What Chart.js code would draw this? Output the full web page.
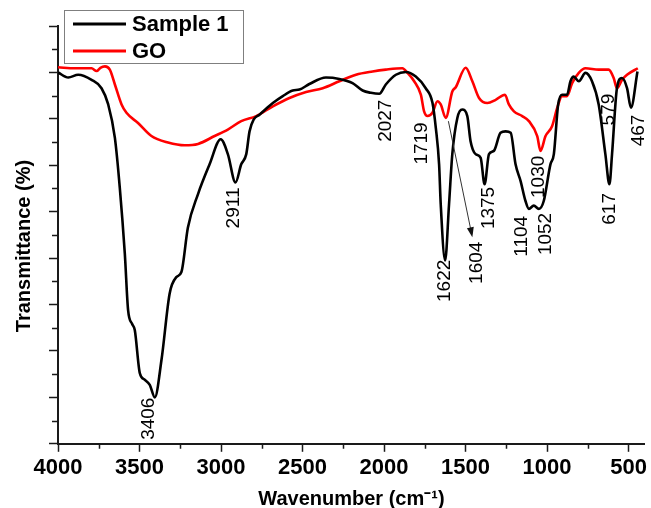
<!DOCTYPE html>
<html>
<head>
<meta charset="utf-8">
<title>FTIR spectra</title>
<script src="https://cdn.jsdelivr.net/npm/chart.js@4.4.1/dist/chart.umd.min.js"></script>
<style>
  html, body { margin: 0; padding: 0; background: #fff; }
  canvas { display: block; }
</style>
</head>
<body>
<canvas id="ftirChart" width="651" height="508"></canvas>
<script>
// wavenumber (cm-1) and transmittance
const sampleWavenumbers = [4000, 3937, 3876, 3794, 3733, 3692, 3651, 3621, 3590, 3570, 3545, 3529, 3498, 3468, 3437, 3406,
  3365, 3315, 3274, 3243, 3203, 3141, 3070, 3002, 2958, 2911, 2876, 2845, 2825, 2799, 2764, 2682, 2621, 2560, 2519,
  2458, 2356, 2274, 2193, 2131, 2080, 2029, 1989, 1927, 1866, 1805, 1744, 1703, 1682, 1662, 1652, 1625, 1601, 1581,
  1550, 1520, 1489, 1469, 1438, 1407, 1383, 1356, 1326, 1285, 1254, 1223, 1193, 1162, 1132, 1111, 1081, 1050, 1020,
  979, 958, 932, 908, 877, 856, 836, 805, 764, 724, 683, 642, 617, 601, 571, 540, 509, 485, 445];
const sampleValues = [80, 78.9, 79.5, 78.4, 76.6, 73.1, 65.9, 55.2, 40.9, 28.8, 25.8, 24.5, 15.2, 13.8, 12.7, 10.0,
  18.1, 32.4, 35.9, 37, 46.6, 53.8, 60.2, 65.6, 62.4, 56.3, 60.2, 62.4, 67.3, 69.9, 70.9, 73.4, 74.9, 76.1, 76.3,
  77.5, 78.9, 78.6, 77.7, 76.1, 75.6, 75.4, 77.4, 79.5, 80.1, 79.1, 76.6, 73.5, 68, 60.2, 51.6, 39.5, 51.6, 62.4,
  70.2, 72, 70.6, 65.2, 62.4, 61.6, 55.9, 62.4, 63.1, 67, 67.3, 67, 60.2, 56.6, 52.3, 50.6, 51.3, 50.6, 52.3,
  60.2, 62.4, 73, 75.2, 75.2, 78.1, 79.1, 78.1, 79.9, 78.1, 73.1, 62.4, 55.9, 62.4, 76.6, 78.8, 76.6, 72.4, 80.2];

const goWavenumbers = [4000, 3896, 3794, 3763, 3740, 3712, 3682, 3651, 3610, 3580, 3509, 3427, 3325, 3223, 3141, 3039,
  2958, 2876, 2784, 2682, 2580, 2478, 2376, 2274, 2172, 2070, 1989, 1887, 1856, 1815, 1774, 1754, 1733, 1703, 1672,
  1652, 1621, 1581, 1560, 1499, 1458, 1417, 1366, 1315, 1258, 1234, 1203, 1152, 1111, 1060, 1040, 1009, 969, 937,
  908, 877, 846, 805, 764, 683, 622, 591, 571, 540, 509, 443];
const goValues = [81.1, 80.9, 80.9, 80.3, 81.0, 81.3, 80.6, 77.4, 73.1, 71.3, 69.1, 66.3, 64.9, 64.3, 64.6, 66.3,
  67.7, 69.5, 70.6, 72.7, 74.5, 75.8, 76.6, 78.1, 79.5, 80.2, 80.6, 80.9, 79.9, 78.1, 75.2, 71.6, 70.6, 71.3, 73.8,
  73.1, 70.2, 75.9, 76.8, 81.0, 78.1, 74.5, 73.4, 74.1, 75.2, 73.1, 71.6, 70.6, 69.5, 66.3, 63.1, 66.3, 68.4, 72.4,
  74.9, 74.9, 77.7, 79.9, 80.9, 80.6, 80.6, 78.8, 76.6, 78.4, 79.5, 80.9];

const xMajorTicks = [4000, 3500, 3000, 2500, 2000, 1500, 1000, 500];
const xMinorTicks = [3750, 3250, 2750, 2250, 1750, 1250, 750];
const yMajorTicks = [0, 10, 20, 30, 40, 50, 60, 70, 80, 90];
const yMinorTicks = [5, 15, 25, 35, 45, 55, 65, 75, 85];

// peak labels: text, anchor wavenumber, anchor transmittance
const peakTexts = ['3406', '2911', '2027', '1719', '1622', '1604', '1375', '1104', '1052', '1030', '617', '579', '467'];
const peakAnchorX = [3443, 2923, 1990, 1766, 1625, 1430, 1356, 1157, 1010, 1053, 613, 622, 438];
const peakAnchorY = [5.4, 50.8, 69.6, 64.7, 35.1, 39.0, 50.8, 44.7, 45.2, 57.5, 50.6, 72.0, 67.5];
// arrow from the GO 1604 dip down to its label
const arrowFrom = [1605, 69.5];
const arrowTo = [1458, 44.5];

const FONT = '"Liberation Sans", Arial, sans-serif';
const AXIS_COLOR = '#1a1a1a';

const toPoints = (xs, ys) => xs.map((x, i) => ({ x: x, y: ys[i] }));

/*** extras: minor ticks, peak labels, arrow, boxed legend ***/
const extrasPlugin = {
  id: 'ftirExtras',
  afterDraw(chart) {
    const { ctx, scales: { x, y }, chartArea } = chart;
    ctx.save();

    // minor ticks
    ctx.strokeStyle = AXIS_COLOR;
    ctx.lineWidth = 1.5;
    ctx.beginPath();
    xMinorTicks.forEach(v => {
      const px = Math.round(x.getPixelForValue(v)) + 0.5;
      ctx.moveTo(px, chartArea.bottom);
      ctx.lineTo(px, chartArea.bottom + 5);
    });
    yMinorTicks.forEach(v => {
      const py = Math.round(y.getPixelForValue(v)) + 0.5;
      ctx.moveTo(chartArea.left, py);
      ctx.lineTo(chartArea.left - 6, py);
    });
    ctx.stroke();

    // peak labels
    ctx.fillStyle = '#000';
    ctx.font = '19px ' + FONT;
    ctx.textAlign = 'center';
    ctx.textBaseline = 'middle';
    peakTexts.forEach((t, i) => {
      ctx.save();
      ctx.translate(x.getPixelForValue(peakAnchorX[i]), y.getPixelForValue(peakAnchorY[i]));
      ctx.rotate(-Math.PI / 2);
      ctx.fillText(t, 0, 0);
      ctx.restore();
    });

    // arrow
    const ax1 = x.getPixelForValue(arrowFrom[0]), ay1 = y.getPixelForValue(arrowFrom[1]);
    const ax2 = x.getPixelForValue(arrowTo[0]), ay2 = y.getPixelForValue(arrowTo[1]);
    const ang = Math.atan2(ay2 - ay1, ax2 - ax1);
    ctx.strokeStyle = '#333';
    ctx.fillStyle = '#111';
    ctx.lineWidth = 1;
    ctx.beginPath();
    ctx.moveTo(ax1, ay1);
    ctx.lineTo(ax2 - 8 * Math.cos(ang), ay2 - 8 * Math.sin(ang));
    ctx.stroke();
    ctx.beginPath();
    ctx.moveTo(ax2, ay2);
    ctx.lineTo(ax2 - 10 * Math.cos(ang) + 3.5 * Math.sin(ang), ay2 - 10 * Math.sin(ang) - 3.5 * Math.cos(ang));
    ctx.lineTo(ax2 - 10 * Math.cos(ang) - 3.5 * Math.sin(ang), ay2 - 10 * Math.sin(ang) + 3.5 * Math.cos(ang));
    ctx.closePath();
    ctx.fill();

    // legend box
    ctx.fillStyle = '#fff';
    ctx.fillRect(64.5, 10.5, 179, 53);
    ctx.strokeStyle = '#7f7f7f';
    ctx.lineWidth = 1;
    ctx.strokeRect(64.5, 10.5, 179, 53);
    ctx.font = 'bold 22px ' + FONT;
    ctx.textAlign = 'left';
    ctx.textBaseline = 'middle';
    chart.data.datasets.forEach((ds, i) => {
      const ly = 24 + i * 27;
      ctx.strokeStyle = ds.borderColor;
      ctx.lineWidth = 3;
      ctx.beginPath();
      ctx.moveTo(73, ly);
      ctx.lineTo(126, ly);
      ctx.stroke();
      ctx.fillStyle = '#000';
      ctx.fillText(ds.label, 132, ly + 1);
    });

    ctx.restore();
  }
};

new Chart(document.getElementById('ftirChart').getContext('2d'), {
  type: 'line',
  data: {
    datasets: [
      { label: 'Sample 1', data: toPoints(sampleWavenumbers, sampleValues), borderColor: '#000000',
        borderWidth: 2.6, pointRadius: 0, cubicInterpolationMode: 'monotone', fill: false },
      { label: 'GO', data: toPoints(goWavenumbers, goValues), borderColor: '#ff0000',
        borderWidth: 2.6, pointRadius: 0, cubicInterpolationMode: 'monotone', fill: false }
    ]
  },
  options: {
    responsive: false,
    animation: false,
    events: [],
    layout: { padding: { top: 26, right: 5, left: 0, bottom: 0 } },
    plugins: { legend: { display: false }, tooltip: { enabled: false } },
    scales: {
      x: {
        type: 'linear',
        reverse: true,
        min: 400,
        max: 4000,
        afterBuildTicks: s => { s.ticks = xMajorTicks.map(v => ({ value: v })); },
        ticks: {
          autoSkip: false, maxRotation: 0, padding: 4, color: '#000',
          font: { family: FONT, size: 22, weight: 'bold', lineHeight: 1.1 },
          callback: v => String(v)
        },
        grid: { drawOnChartArea: false, tickLength: 8, tickColor: AXIS_COLOR, tickWidth: 1.5 },
        border: { color: AXIS_COLOR, width: 2 },
        title: {
          display: true, text: 'Wavenumber (cm⁻¹)', color: '#000',
          font: { family: FONT, size: 20, weight: 'bold', lineHeight: 1.2 },
          padding: { top: 3, bottom: -3 }
        }
      },
      y: {
        min: 0,
        max: 90,
        afterBuildTicks: s => { s.ticks = yMajorTicks.map(v => ({ value: v })); },
        ticks: { display: false },
        grid: { drawOnChartArea: false, tickLength: 9, tickColor: AXIS_COLOR, tickWidth: 1.5 },
        border: { color: AXIS_COLOR, width: 2 },
        title: {
          display: true, text: 'Transmittance (%)\u00a0\u00a0\u00a0\u00a0', color: '#000',
          font: { family: FONT, size: 20, weight: 'bold', lineHeight: 1.2 },
          padding: { top: 12, bottom: 13 }
        }
      }
    }
  },
  plugins: [extrasPlugin]
});
</script>
</body>
</html>
